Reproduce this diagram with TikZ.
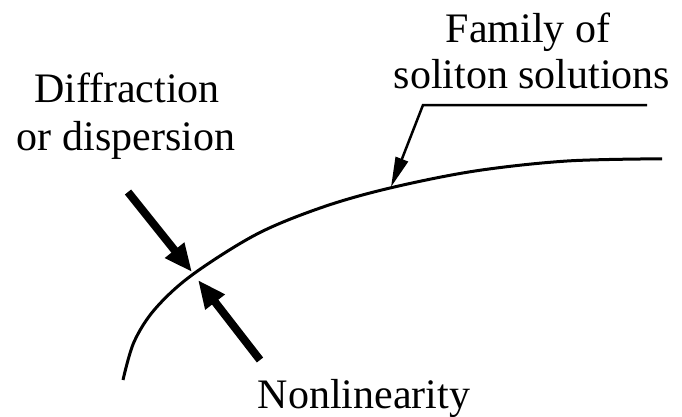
\documentclass[tikz,border=0pt]{standalone}
\usepackage{fontspec}
\setmainfont{Liberation Serif}
\usetikzlibrary{arrows.meta}
\begin{document}
\begin{tikzpicture}[x=1pt,y=-1pt,
  lbl/.style={font=\fontsize{42}{48}\selectfont, inner sep=0pt, align=center},
  curve/.style={line width=3pt},
  push/.style={line width=8pt, -{Triangle[length=28pt,width=23pt]}},
  leader/.style={line width=2.5pt, -{Triangle[length=30pt,width=13pt]}}]
  \useasboundingbox (0,0) rectangle (682,416);
  % labels
  \node[lbl, anchor=base] (diff1) at (127,102) {Diffraction};
  \node[lbl, anchor=base] (diff2) at (126,150) {or dispersion};
  \node[lbl, anchor=base] (fam1) at (528,42) {Family of};
  \node[lbl, anchor=base] (fam2) at (532,88) {soliton solutions};
  \node[lbl, anchor=base] (nonlin) at (364,408) {Nonlinearity};
  % the family of solutions
  \draw[curve] plot[smooth, tension=0.55] coordinates
    {(123,380) (134,342) (155,309) (192,275) (257,234) (323,207)
     (390,188) (475,171) (567,161) (662,158.8)};
  % arrow tips and tails
  \coordinate (meetA) at (192,272);
  \coordinate (meetB) at (198,280);
  \coordinate (onCurve) at (391,187);
  \coordinate (tailA) at (128,192);
  \coordinate (tailB) at (260,360);
  \coordinate (leadEnd) at (647,105);
  \coordinate (leadBend) at (423,105);
  \draw[push] (tailA) -- (meetA);
  \draw[push] (tailB) -- (meetB);
  \draw[leader] (leadEnd) -- (leadBend) -- (onCurve);
\end{tikzpicture}
\end{document}
